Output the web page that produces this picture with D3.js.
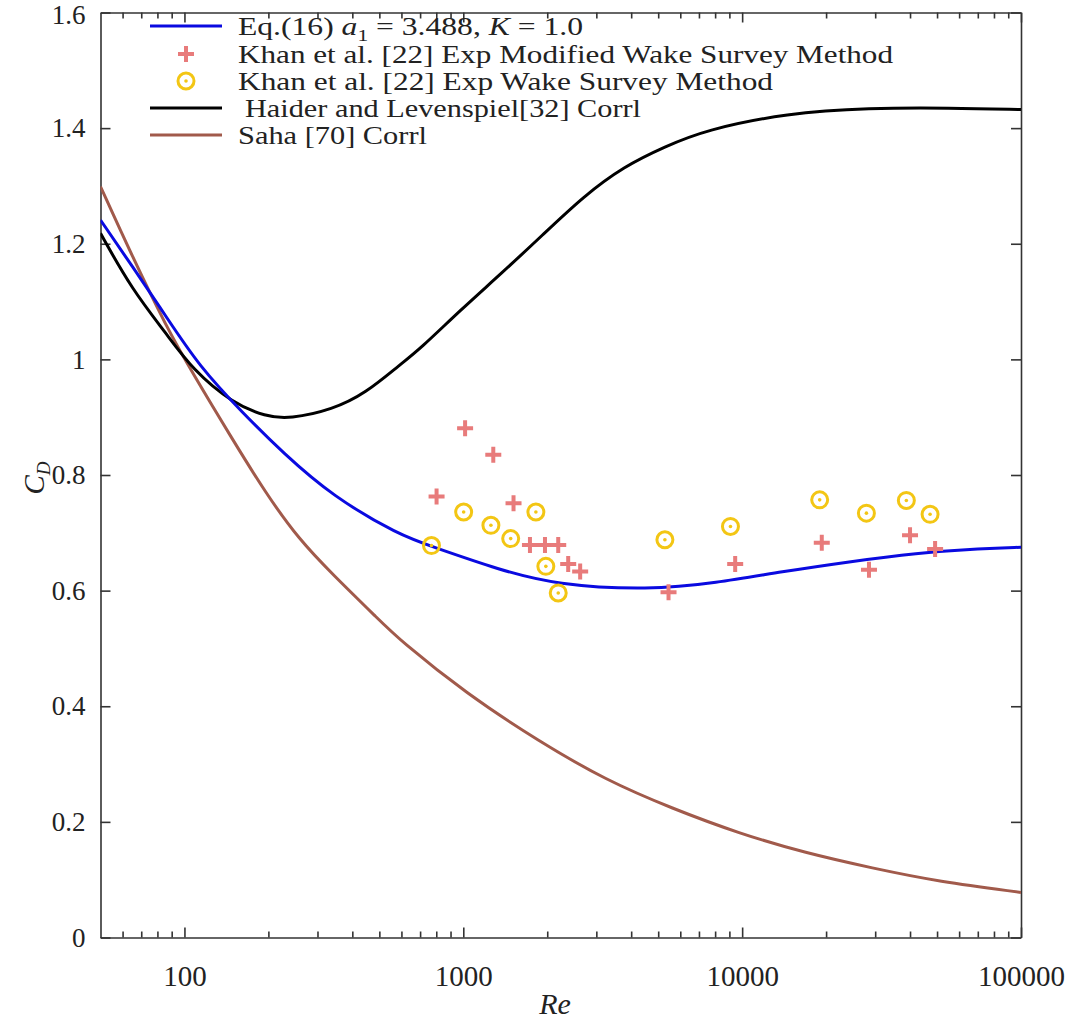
<!DOCTYPE html>
<html><head><meta charset="utf-8">
<script src="https://cdn.jsdelivr.net/npm/d3@7"></script>
<style>body{margin:0;background:#fff}svg{display:block}text{font-family:"Liberation Serif","Times New Roman",serif;fill:#222}</style>
</head><body>
<script>
// ---- data ----
const eqRe   = [50, 65, 86, 113, 162, 226, 340, 590, 776, 1346, 2150, 4640, 8050, 13940, 24200, 41950, 72600, 100000];
const eqCd   = [1.241, 1.161, 1.074, 0.988, 0.907, 0.838, 0.763, 0.696, 0.676, 0.636, 0.610, 0.601, 0.613, 0.633, 0.650, 0.665, 0.673, 0.675];
const hlRe   = [50, 65, 86, 107, 149, 196, 238, 340, 448, 590, 700, 980, 1373, 1923, 2695, 3773, 5284, 7396, 14520, 28480, 55800, 100000];
const hlCd   = [1.218, 1.120, 1.045, 0.982, 0.924, 0.901, 0.897, 0.913, 0.942, 0.990, 1.018, 1.086, 1.149, 1.215, 1.282, 1.334, 1.368, 1.397, 1.426, 1.435, 1.435, 1.432];
const sahaRe = [50, 65, 86, 107, 149, 196, 258, 340, 500, 590, 1023, 1873, 3247, 5623, 9750, 16900, 29300, 50800, 100000];
const sahaCd = [1.299, 1.178, 1.057, 0.976, 0.861, 0.768, 0.688, 0.628, 0.549, 0.515, 0.422, 0.339, 0.272, 0.223, 0.180, 0.146, 0.120, 0.0965, 0.078];
const modRe  = [1015, 1281, 802, 1514, 1734, 1963, 2190, 2378, 2625, 5445, 9441, 19300, 28500, 40000, 49200];
const modCd  = [0.881, 0.835, 0.763, 0.751, 0.679, 0.679, 0.679, 0.646, 0.633, 0.597, 0.646, 0.683, 0.636, 0.696, 0.672];
const wakeRe = [769, 1003, 1256, 1479, 1821, 1977, 2190, 5284, 9080, 18970, 27900, 38800, 47200];
const wakeCd = [0.678, 0.736, 0.713, 0.690, 0.736, 0.642, 0.596, 0.688, 0.711, 0.757, 0.734, 0.756, 0.732];
const xMajor = [100, 1000, 10000, 100000];
const xMinor = [60,70,80,90,200,300,400,500,600,700,800,900,2000,3000,4000,5000,6000,7000,8000,9000,20000,30000,40000,50000,60000,70000,80000,90000];
const yTicks = [0, 0.2, 0.4, 0.6, 0.8, 1.0, 1.2, 1.4, 1.6];
const yTickLabels = ["0","0.2","0.4","0.6","0.8","1","1.2","1.4","1.6"];
const legendLabels = ["Khan et al. [22] Exp Modified Wake Survey Method", "Khan et al. [22] Exp Wake Survey Method", "Haider and Levenspiel[32] Corrl", "Saha [70] Corrl"];

const W = 1072, H = 1024;
const L = 100.5, R = 1021, T = 12.5, B = 937.5;
const svg = d3.select("body").append("svg").attr("width", W).attr("height", H);
const x = d3.scaleLog().domain([50, 100000]).range([L, R]);
const y = d3.scaleLinear().domain([0, 1.6]).range([B, T]);

const axCol = "#333";
function styleAxis(g, fs){ g.selectAll("path,line").attr("stroke", axCol).attr("stroke-width", 1.6); g.selectAll("text").attr("font-size", fs || 27).attr("fill","#222"); }

// bottom
svg.append("g").attr("transform",`translate(0,${B})`)
  .call(d3.axisBottom(x).tickValues(xMajor).tickSize(-10).tickSizeOuter(0).tickPadding(28).tickFormat(d=>String(d)))
  .call(g=>styleAxis(g, 29));
svg.append("g").attr("transform",`translate(0,${B})`)
  .call(d3.axisBottom(x).tickValues(xMinor).tickSize(-6).tickSizeOuter(0).tickFormat(""))
  .call(g=>styleAxis(g)).call(g=>g.select(".domain").remove());
// top
svg.append("g").attr("transform",`translate(0,${T})`)
  .call(d3.axisTop(x).tickValues(xMajor).tickSize(-10).tickSizeOuter(0).tickFormat(""))
  .call(g=>styleAxis(g));
svg.append("g").attr("transform",`translate(0,${T})`)
  .call(d3.axisTop(x).tickValues(xMinor).tickSize(-6).tickSizeOuter(0).tickFormat(""))
  .call(g=>styleAxis(g)).call(g=>g.select(".domain").remove());
// left
svg.append("g").attr("transform",`translate(${L},0)`)
  .call(d3.axisLeft(y).tickValues(yTicks).tickSize(-10).tickSizeOuter(0).tickPadding(15).tickFormat((d,i)=>yTickLabels[i]))
  .call(g=>styleAxis(g, 27))
  .call(g=>g.selectAll(".tick").filter(d=>d===1.6).select("text").attr("dy","0.42em"));
// right
svg.append("g").attr("transform",`translate(${R},0)`)
  .call(d3.axisRight(y).tickValues(yTicks).tickSize(-10).tickSizeOuter(0).tickFormat(""))
  .call(g=>styleAxis(g));

// curves
const line = d3.line().x(d=>x(d[0])).y(d=>y(d[1])).curve(d3.curveBasis);
svg.append("clipPath").attr("id","c").append("rect").attr("x",L).attr("y",T).attr("width",R-L).attr("height",B-T);
const plot = svg.append("g").attr("clip-path","url(#c)");
const colBlue = "#0a0ae0", colBrown = "#a15a4b", colBlack = "#000", colPlus = "#e87b7b", colCirc = "#f3c614";
plot.append("path").datum(d3.zip(sahaRe, sahaCd)).attr("d", line).attr("fill","none").attr("stroke",colBrown).attr("stroke-width",3);
plot.append("path").datum(d3.zip(hlRe, hlCd)).attr("d", line).attr("fill","none").attr("stroke",colBlack).attr("stroke-width",3);
plot.append("path").datum(d3.zip(eqRe, eqCd)).attr("d", line).attr("fill","none").attr("stroke",colBlue).attr("stroke-width",3);

// markers
function plus(g, cx, cy){ g.append("path").attr("d",`M${cx-8},${cy}H${cx+8}M${cx},${cy-8}V${cy+8}`).attr("stroke",colPlus).attr("stroke-width",4).attr("fill","none"); }
function circ(g, cx, cy){ g.append("circle").attr("cx",cx).attr("cy",cy).attr("r",8).attr("fill","none").attr("stroke",colCirc).attr("stroke-width",3);
  g.append("circle").attr("cx",cx).attr("cy",cy).attr("r",1.8).attr("fill",colCirc); }
const mg = svg.append("g");
d3.zip(modRe, modCd).forEach(d=>plus(mg, x(d[0]), y(d[1])));
d3.zip(wakeRe, wakeCd).forEach(d=>circ(mg, x(d[0]), y(d[1])));

// legend
const lg = svg.append("g");
const lx1 = 150, lx2 = 222, tx = 238, fs = 25;
const rows = [26, 54, 81, 108, 135];
lg.append("line").attr("x1",lx1).attr("x2",lx2).attr("y1",rows[0]).attr("y2",rows[0]).attr("stroke",colBlue).attr("stroke-width",3);
plus(lg, (lx1+lx2)/2, rows[1]);
circ(lg, (lx1+lx2)/2, rows[2]);
lg.append("line").attr("x1",lx1).attr("x2",lx2).attr("y1",rows[3]).attr("y2",rows[3]).attr("stroke",colBlack).attr("stroke-width",3);
lg.append("line").attr("x1",lx1).attr("x2",lx2).attr("y1",rows[4]).attr("y2",rows[4]).attr("stroke",colBrown).attr("stroke-width",3);
const t0 = lg.append("text").attr("x",tx).attr("y",rows[0]).attr("dy","0.35em").attr("font-size",fs)
  .attr("textLength",345).attr("lengthAdjust","spacingAndGlyphs");
t0.append("tspan").text("Eq.(16) ");
t0.append("tspan").attr("font-style","italic").text("a");
t0.append("tspan").attr("font-size",17).attr("dy",6).text("1");
t0.append("tspan").attr("dy",-6).text(" = 3.488, ");
t0.append("tspan").attr("font-style","italic").text("K");
t0.append("tspan").text(" = 1.0");
const legX = [tx, tx, tx+7, tx], legLen = [655, 535, 396, 189];
legendLabels.forEach((s,i)=>{
  lg.append("text").attr("x",legX[i]).attr("y",rows[i+1]).attr("dy","0.35em").attr("font-size",fs)
    .attr("textLength",legLen[i]).attr("lengthAdjust","spacingAndGlyphs").text(s);
});

// axis titles
svg.append("text").attr("x",555).attr("y",1014).attr("text-anchor","middle").attr("font-size",30).attr("font-style","italic").text("Re");
const yl = svg.append("text").attr("transform","translate(44,478) rotate(-90)").attr("text-anchor","middle").attr("font-size",29);
yl.append("tspan").attr("font-style","italic").text("C");
yl.append("tspan").attr("font-style","italic").attr("font-size",19).attr("dy",6).text("D");
</script>
</body></html>
